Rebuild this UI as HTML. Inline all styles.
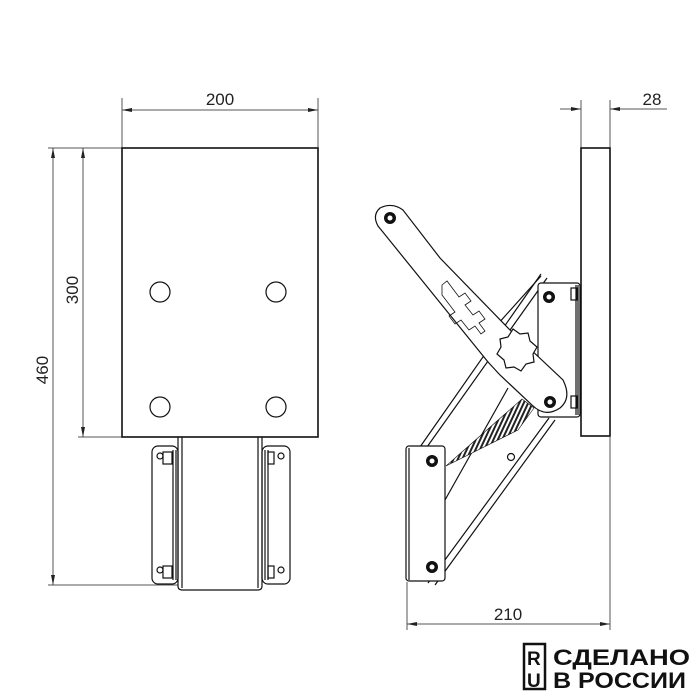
<!DOCTYPE html>
<html><head><style>body{margin:0;background:#fff}svg{display:block}</style></head><body>
<svg width="700" height="700" viewBox="0 0 700 700" xmlns="http://www.w3.org/2000/svg" font-family="Liberation Sans, sans-serif">
<defs>
<marker id="a" markerWidth="10" markerHeight="6" refX="10" refY="3" orient="auto-start-reverse" markerUnits="userSpaceOnUse"><path d="M0,1 L10,3 L0,5z" fill="#222"/></marker>
<pattern id="h" width="4" height="4" patternUnits="userSpaceOnUse" patternTransform="rotate(25)"><rect width="4" height="4" fill="#fff"/><rect width="2" height="4" fill="#222"/></pattern>
</defs>
<g stroke="#555" stroke-width="1" fill="none">
<line x1="122" y1="98" x2="122" y2="148"/><line x1="318" y1="98" x2="318" y2="148"/>
<line x1="122" y1="110" x2="318" y2="110" marker-start="url(#a)" marker-end="url(#a)"/>
<line x1="48" y1="148" x2="122" y2="148"/><line x1="78" y1="437" x2="122" y2="437"/><line x1="48" y1="585" x2="178" y2="585"/>
<line x1="53" y1="148" x2="53" y2="585" marker-start="url(#a)" marker-end="url(#a)"/>
<line x1="83" y1="148" x2="83" y2="437" marker-start="url(#a)" marker-end="url(#a)"/>
<line x1="581" y1="100" x2="581" y2="148"/><line x1="610" y1="100" x2="610" y2="148"/>
<line x1="560" y1="109" x2="581" y2="109" marker-end="url(#a)"/><line x1="667" y1="109" x2="610" y2="109" marker-end="url(#a)"/>
<line x1="407" y1="582" x2="407" y2="630"/><line x1="610" y1="437" x2="610" y2="630"/>
<line x1="407" y1="624" x2="610" y2="624" marker-start="url(#a)" marker-end="url(#a)"/>
</g>
<g font-size="17" fill="#222">
<text x="220" y="105" text-anchor="middle">200</text>
<text x="652" y="105" text-anchor="middle">28</text>
<text x="508" y="620" text-anchor="middle">210</text>
<text transform="translate(48,370) rotate(-90)" text-anchor="middle">460</text>
<text transform="translate(78,290) rotate(-90)" text-anchor="middle">300</text>
</g>
<g stroke="#111" fill="none" stroke-width="1.2">
<rect x="122" y="148" width="196" height="289" stroke-width="1.6"/>
<circle cx="160" cy="292" r="10"/><circle cx="276" cy="292" r="10"/><circle cx="160" cy="407" r="10"/><circle cx="276" cy="407" r="10"/>
<path d="M178,437 V586 Q178,590 182,590 H258 Q262,590 262,586 V437"/>
<line x1="182" y1="437" x2="182" y2="588"/><line x1="258" y1="437" x2="258" y2="588"/>
<rect x="152" y="446" width="26" height="138" rx="6"/>
<rect x="262" y="446" width="28" height="138" rx="6"/>
<line x1="173" y1="450" x2="173" y2="580"/><line x1="176" y1="450" x2="176" y2="580"/>
<line x1="265" y1="450" x2="265" y2="580"/><line x1="268" y1="450" x2="268" y2="580"/>
<circle cx="160" cy="456" r="3"/><circle cx="160" cy="570" r="3"/><circle cx="281" cy="456" r="3"/><circle cx="281" cy="570" r="3"/>
<rect x="163" y="452" width="9" height="12"/><rect x="163" y="566" width="9" height="12"/>
<rect x="268" y="452" width="6" height="12"/><rect x="268" y="566" width="6" height="12"/>
<!-- side view -->
<rect x="581" y="148" width="29" height="288" stroke-width="1.6"/>
<path d="M547,278 L427,447 M541,274 L420,447"/>
<path d="M555,420 L435,585 M549,418 L428,583"/>
<path d="M508,388 L445,500 M541,276 L488,335"/>
<rect x="538" y="283" width="42" height="134" rx="3" fill="#fff"/>
<line x1="576" y1="285" x2="576" y2="415"/><line x1="578" y1="285" x2="578" y2="415"/>
<rect x="571" y="288" width="6" height="12"/><rect x="571" y="396" width="6" height="12"/>
<rect x="406" y="446" width="39" height="135" rx="3" fill="#fff"/>
<line x1="409" y1="448" x2="409" y2="580"/>
<path d="M446,466 L522,399 L534,408 L518,430 Z" fill="url(#h)" stroke-width="0.6"/>
<path d="M380,208 Q392,202 403,210 L440,258 L510,330 L563,380 Q572,398 560,408 Q545,418 532,405 L500,375 L488,362 L378,226 Q372,215 380,208Z" fill="#fff"/>
<path d="M442,285 l5,-4 l12,16 l6,-4 l6,8 l-6,4 l8,10 l6,-4 l6,8 l-6,4 l6,8 l-4,3 l-6,-8 l-6,4 l-8,-10 l-6,4 l-6,-8 l6,-4 l-13,-17z" stroke-width="0.8"/>
<path d="M513,329 l7,5 l8,-1 l2,8 l7,6 l-4,7 l1,8 l-8,2 l-5,7 l-7,-4 l-8,1 l-2,-8 l-7,-6 l4,-7 l-1,-8 l8,-2z" fill="#fff"/>
<circle cx="511" cy="457" r="3.5"/>
</g>
<g fill="#111">
<circle cx="390" cy="218" r="6"/><circle cx="549" cy="297" r="6"/><circle cx="550" cy="402" r="6"/>
<circle cx="432" cy="461" r="6"/><circle cx="432" cy="567" r="6"/>
</g>
<g fill="#fff"><circle cx="390" cy="218" r="2.5"/><circle cx="549" cy="297" r="2.5"/><circle cx="550" cy="402" r="2.5"/><circle cx="432" cy="461" r="2.5"/><circle cx="432" cy="567" r="2.5"/></g>
<rect x="524" y="644" width="21" height="45" fill="none" stroke="#111" stroke-width="2.5"/>
<g font-size="22" font-weight="bold" fill="#111">
<text x="527" y="665" font-size="19">R</text><text x="527" y="687" font-size="19">U</text>
<text x="553" y="665" textLength="137" lengthAdjust="spacingAndGlyphs">СДЕЛАНО</text>
<text x="553" y="688" textLength="133" lengthAdjust="spacingAndGlyphs">В РОССИИ</text>
</g>
</svg>
</body></html>
